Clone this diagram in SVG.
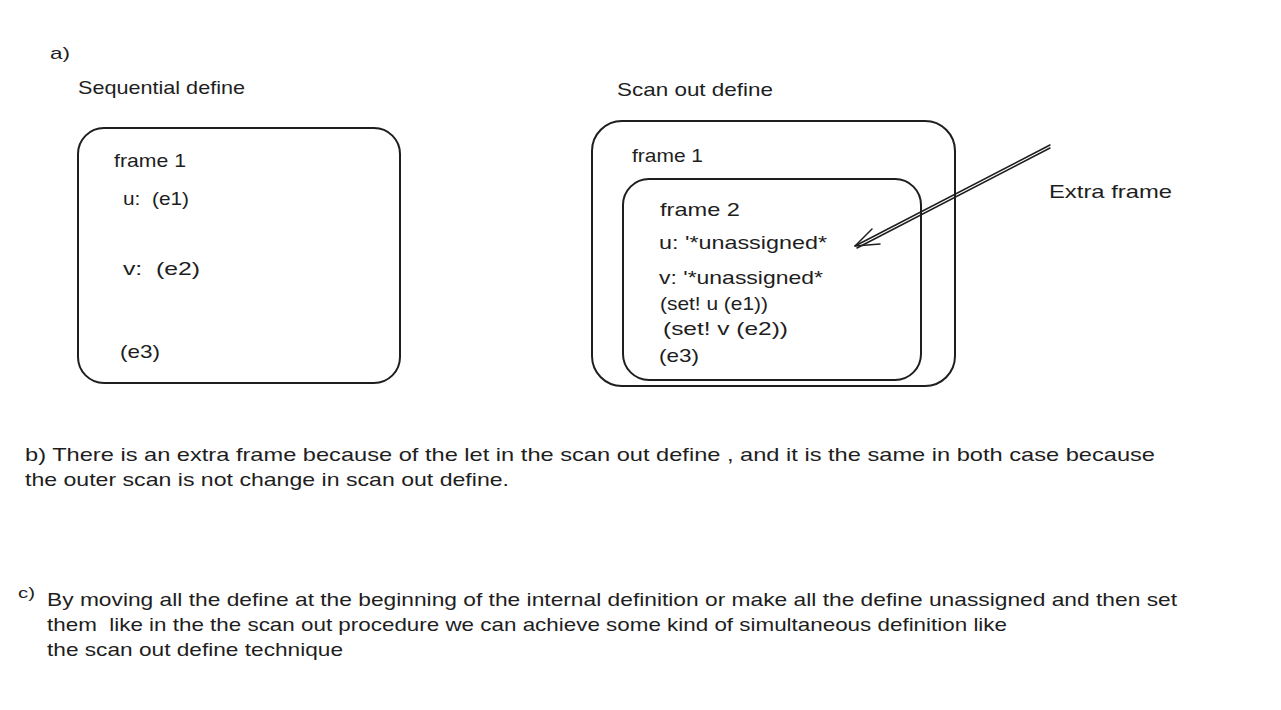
<svg xmlns="http://www.w3.org/2000/svg" width="1281" height="710" viewBox="0 0 1281 710" xml:space="preserve">
<style>
text{font-family:"Liberation Sans","DejaVu Sans",sans-serif;fill:#1e1e1e;font-size:19px;white-space:pre}
.box{fill:none;stroke:#1e1e1e;stroke-width:2}
.ln{fill:none;stroke:#1e1e1e;stroke-width:1.5;stroke-linecap:round}
</style>
<rect width="1281" height="710" fill="#ffffff"/>
<text x="50" y="59" style="font-size:17px" textLength="20" lengthAdjust="spacingAndGlyphs">a)</text>
<text x="78" y="94" textLength="167" lengthAdjust="spacingAndGlyphs">Sequential define</text>
<text x="617" y="96" textLength="156" lengthAdjust="spacingAndGlyphs">Scan out define</text>
<g id="seq-frame1">
<rect class="box" x="78" y="128" width="322" height="255" rx="26"/>
<text x="114" y="167" textLength="72" lengthAdjust="spacingAndGlyphs">frame 1</text>
<text x="123" y="205" textLength="66" lengthAdjust="spacingAndGlyphs">u:  (e1)</text>
<text x="123" y="275" textLength="77" lengthAdjust="spacingAndGlyphs">v:  (e2)</text>
<text x="120" y="358" textLength="40" lengthAdjust="spacingAndGlyphs">(e3)</text>
</g>
<g id="scan-frame1">
<rect class="box" x="592" y="121" width="363" height="265" rx="30"/>
<text x="632" y="162" textLength="71" lengthAdjust="spacingAndGlyphs">frame 1</text>
</g>
<g id="scan-frame2">
<rect class="box" x="623" y="179" width="298" height="201" rx="26"/>
<text x="660" y="216" textLength="80" lengthAdjust="spacingAndGlyphs">frame 2</text>
<text x="659" y="249" textLength="168" lengthAdjust="spacingAndGlyphs">u: '*unassigned*</text>
<text x="659" y="284" textLength="164" lengthAdjust="spacingAndGlyphs">v: '*unassigned*</text>
<text x="660" y="310" textLength="108" lengthAdjust="spacingAndGlyphs">(set! u (e1))</text>
<text x="663" y="335" textLength="125" lengthAdjust="spacingAndGlyphs">(set! v (e2))</text>
<text x="659" y="362" textLength="40" lengthAdjust="spacingAndGlyphs">(e3)</text>
</g>
<g id="label-extra">
<text x="1049" y="198" textLength="123" lengthAdjust="spacingAndGlyphs">Extra frame</text>
</g>
<g id="connectors">
<path class="ln" d="M1050,145 L855,246 M1050,148 L857,248"/>
<path class="ln" d="M855,246 L880,244 M855,246 L872,229"/>
</g>
<g id="notes">
<text x="25" y="461" textLength="1130" lengthAdjust="spacingAndGlyphs">b) There is an extra frame because of the let in the scan out define , and it is the same in both case because</text>
<text x="25" y="486" textLength="484" lengthAdjust="spacingAndGlyphs">the outer scan is not change in scan out define.</text>
<text x="18" y="598" style="font-size:15px" textLength="17" lengthAdjust="spacingAndGlyphs">c)</text>
<text x="47" y="606" textLength="1130" lengthAdjust="spacingAndGlyphs">By moving all the define at the beginning of the internal definition or make all the define unassigned and then set</text>
<text x="47" y="631" textLength="960" lengthAdjust="spacingAndGlyphs">them  like in the the scan out procedure we can achieve some kind of simultaneous definition like</text>
<text x="47" y="656" textLength="296" lengthAdjust="spacingAndGlyphs">the scan out define technique</text>
</g>
</svg>
